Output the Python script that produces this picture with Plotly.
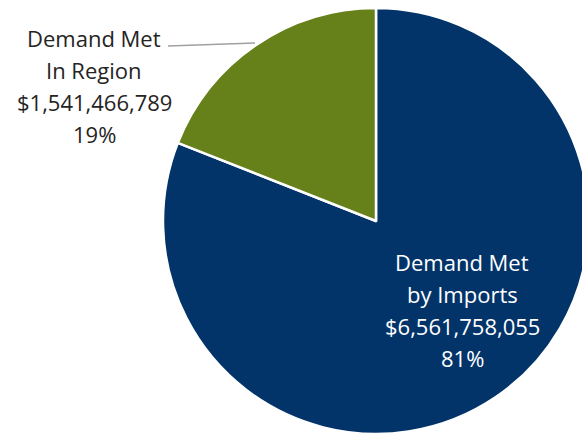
import plotly.graph_objects as go

labels = ["Demand Met by Imports", "Demand Met In Region"]
label_lines = [["Demand Met", "by Imports"], ["Demand Met", "In Region"]]
values = [6561758055, 1541466789]
colors = ["#02346a", "#66801a"]

W, H = 800, 500
cx, cy, r = 376, 221, 213

def px(x):
    return x / W

def py(y):
    return 1 - y / H

fig = go.Figure(go.Pie(
    labels=labels,
    values=values,
    sort=False,
    direction="clockwise",
    rotation=0,
    marker=dict(colors=colors, line=dict(color="white", width=2.5)),
    textinfo="none",
    hoverinfo="label+value+percent",
    domain=dict(x=[px(cx - r), px(cx + r)], y=[py(cy + r), py(cy - r)]),
    showlegend=False,
))

total = sum(values)
pcts = [round(v / total * 100) for v in values]

font_family = "Open Sans, Noto Sans, sans-serif"
fs = 22
spacing = 32

def add_label(lines, xc, y0, color):
    for i, t in enumerate(lines):
        fig.add_annotation(
            x=px(xc), y=py(y0 + i * spacing), xref="paper", yref="paper",
            text=t, showarrow=False, xanchor="center", yanchor="middle",
            font=dict(family=font_family, size=fs, color=color),
        )

for idx, (xc, y0, col) in enumerate([(462, 262, "white"), (94, 38, "#252423")]):
    lines = label_lines[idx] + ["${:,}".format(values[idx]), "{}%".format(pcts[idx])]
    add_label(lines, xc, y0, col)

fig.add_shape(type="line", xref="paper", yref="paper",
              x0=px(168), y0=py(46), x1=px(255), y1=py(43),
              line=dict(color="#a0a0a0", width=1.5))

fig.update_layout(
    width=W, height=H, autosize=False,
    margin=dict(l=0, r=0, t=0, b=0),
    paper_bgcolor="white", plot_bgcolor="white",
)

fig.write_html("out.html", post_script="document.body.style.margin='0';document.body.style.overflow='hidden';document.documentElement.style.overflow='hidden';")
